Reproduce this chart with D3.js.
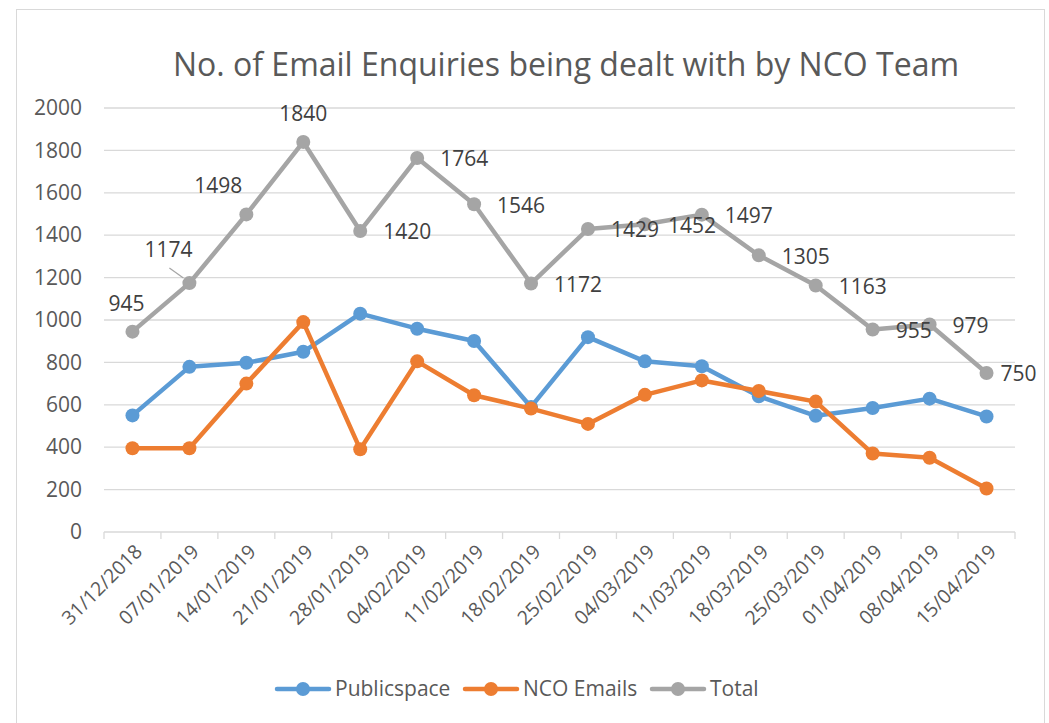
<!DOCTYPE html>
<html lang="en">
<head>
  <title>No. of Email Enquiries being dealt with by NCO Team</title>
  <script src="https://d3js.org/d3.v7.min.js"></script>
  <style>
    * { box-sizing: border-box; margin: 0; padding: 0; }
    html, body { width: 1049px; height: 723px; background: #fff; overflow: hidden; }
    svg { display: block; font-family: "Open Sans", sans-serif; }
  </style>
</head>
<body>
  <svg id="chart" width="1049" height="723"></svg>

  <script>
    // week commencing dates
    const weeks = [
      "31/12/2018", "07/01/2019", "14/01/2019", "21/01/2019", "28/01/2019",
      "04/02/2019", "11/02/2019", "18/02/2019", "25/02/2019", "04/03/2019",
      "11/03/2019", "18/03/2019", "25/03/2019", "01/04/2019", "08/04/2019",
      "15/04/2019"
    ];
    const publicspace = [550, 779, 798, 850, 1030, 959, 901, 590, 919, 805, 782, 640, 548, 585, 629, 545];
    const ncoEmails   = [395, 395, 700, 990, 390, 805, 645, 582, 510, 647, 715, 665, 615, 370, 350, 205];
    const total       = [945, 1174, 1498, 1840, 1420, 1764, 1546, 1172, 1429, 1452, 1497, 1305, 1163, 955, 979, 750];
    const yTicks      = [0, 200, 400, 600, 800, 1000, 1200, 1400, 1600, 1800, 2000];

    const series = [
      { name: "Publicspace", values: publicspace, color: "#5b9bd5" },
      { name: "NCO Emails",  values: ncoEmails,   color: "#ed7d31" },
      { name: "Total",       values: total,       color: "#a5a5a5" }
    ];

    const svg = d3.select("#chart");

    // outer frame
    svg.append("rect")
      .attr("x", 16.5).attr("y", 9.5)
      .attr("width", 1028).attr("height", 730)
      .attr("fill", "none").attr("stroke", "#d9d9d9");

    svg.append("text")
      .attr("x", 566).attr("y", 76)
      .attr("text-anchor", "middle")
      .attr("font-size", 32).attr("fill", "#595959")
      .text("No. of Email Enquiries being dealt with by NCO Team");

    const x = d3.scaleBand().domain(weeks).range([104, 1015]);
    const y = d3.scaleLinear().domain([0, 2000]).range([532, 108]);
    const cx = d => x(d) + x.bandwidth() / 2;

    // gridlines
    svg.append("g")
      .selectAll("line")
      .data(yTicks.slice(1))
      .join("line")
      .attr("x1", 104).attr("x2", 1015)
      .attr("y1", d => y(d)).attr("y2", d => y(d))
      .attr("stroke", "#d9d9d9").attr("stroke-width", 1.3);

    // y axis labels
    const yAxis = svg.append("g")
      .attr("transform", "translate(82,0)")
      .call(d3.axisLeft(y).tickValues(yTicks).tickFormat(d3.format("d")).tickSize(0).tickPadding(0));
    yAxis.select(".domain").remove();
    yAxis.selectAll("text")
      .attr("font-family", "Open Sans").attr("font-size", 21)
      .attr("fill", "#595959");

    // x axis with ticks at category boundaries
    const xAxis = svg.append("g").attr("transform", "translate(0,532)");
    xAxis.append("line")
      .attr("x1", 104).attr("x2", 1015)
      .attr("stroke", "#d9d9d9").attr("stroke-width", 1.3);
    xAxis.selectAll("line.tick")
      .data(weeks.concat(["end"]))
      .join("line")
      .attr("class", "tick")
      .attr("x1", (d, i) => 104 + i * x.step())
      .attr("x2", (d, i) => 104 + i * x.step())
      .attr("y1", 0).attr("y2", 7)
      .attr("stroke", "#d9d9d9").attr("stroke-width", 1.3);
    xAxis.selectAll("text")
      .data(weeks)
      .join("text")
      .attr("transform", d => `translate(${cx(d) + 6},${16}) rotate(-45)`)
      .attr("text-anchor", "end")
      .attr("dy", "0.35em")
      .attr("font-size", 19.5).attr("fill", "#595959")
      .text(d => d);

    // lines + markers
    const line = d3.line()
      .x((d, i) => cx(weeks[i]))
      .y(d => y(d));

    series.forEach(s => {
      const g = svg.append("g");
      g.append("path")
        .datum(s.values)
        .attr("d", line)
        .attr("fill", "none")
        .attr("stroke", s.color)
        .attr("stroke-width", 4.5)
        .attr("stroke-linejoin", "round");
      g.selectAll("circle")
        .data(s.values)
        .join("circle")
        .attr("cx", (d, i) => cx(weeks[i]))
        .attr("cy", d => y(d))
        .attr("r", 7)
        .attr("fill", s.color);
    });

    // data labels on the Total series
    const labelPlace = ["above", "aboveLeft", "aboveLeft", "above"];
    const labels = svg.append("g")
      .attr("font-size", 21).attr("fill", "#404040");
    total.forEach((v, i) => {
      const px = cx(weeks[i]), py = y(v);
      const place = labelPlace[i] || "right";
      const t = labels.append("text").text(v).attr("dy", "0.35em");
      if (place === "above") {
        t.attr("x", px - (i === 0 ? 6 : 0)).attr("y", py - 28).attr("text-anchor", "middle");
      } else if (place === "aboveLeft") {
        t.attr("x", px - (i === 1 ? 21 : 28)).attr("y", py - (i === 1 ? 33 : 29)).attr("text-anchor", "middle");
      } else {
        t.attr("x", px + (i === total.length - 1 ? 14 : 23)).attr("y", py + 1);
      }
    });
    // leader line for 1174
    labels.append("line")
      .attr("x1", cx(weeks[1]) - 20).attr("y1", y(total[1]) - 15)
      .attr("x2", cx(weeks[1]) - 6).attr("y2", y(total[1]) - 5)
      .attr("stroke", "#a5a5a5").attr("stroke-width", 1.2);

    // legend
    const legendX = [277, 465, 652];
    const legend = svg.append("g").attr("transform", "translate(0,689)");
    series.forEach((s, i) => {
      const g = legend.append("g").attr("transform", `translate(${legendX[i]},0)`);
      g.append("line").attr("x1", 0).attr("x2", 52)
        .attr("stroke", s.color).attr("stroke-width", 4.5).attr("stroke-linecap", "round");
      g.append("circle").attr("cx", 26).attr("r", 7).attr("fill", s.color);
      g.append("text").attr("x", 58).attr("dy", "0.35em")
        .attr("font-size", 21).attr("fill", "#595959")
        .text(s.name);
    });
  </script>
</body>
</html>
